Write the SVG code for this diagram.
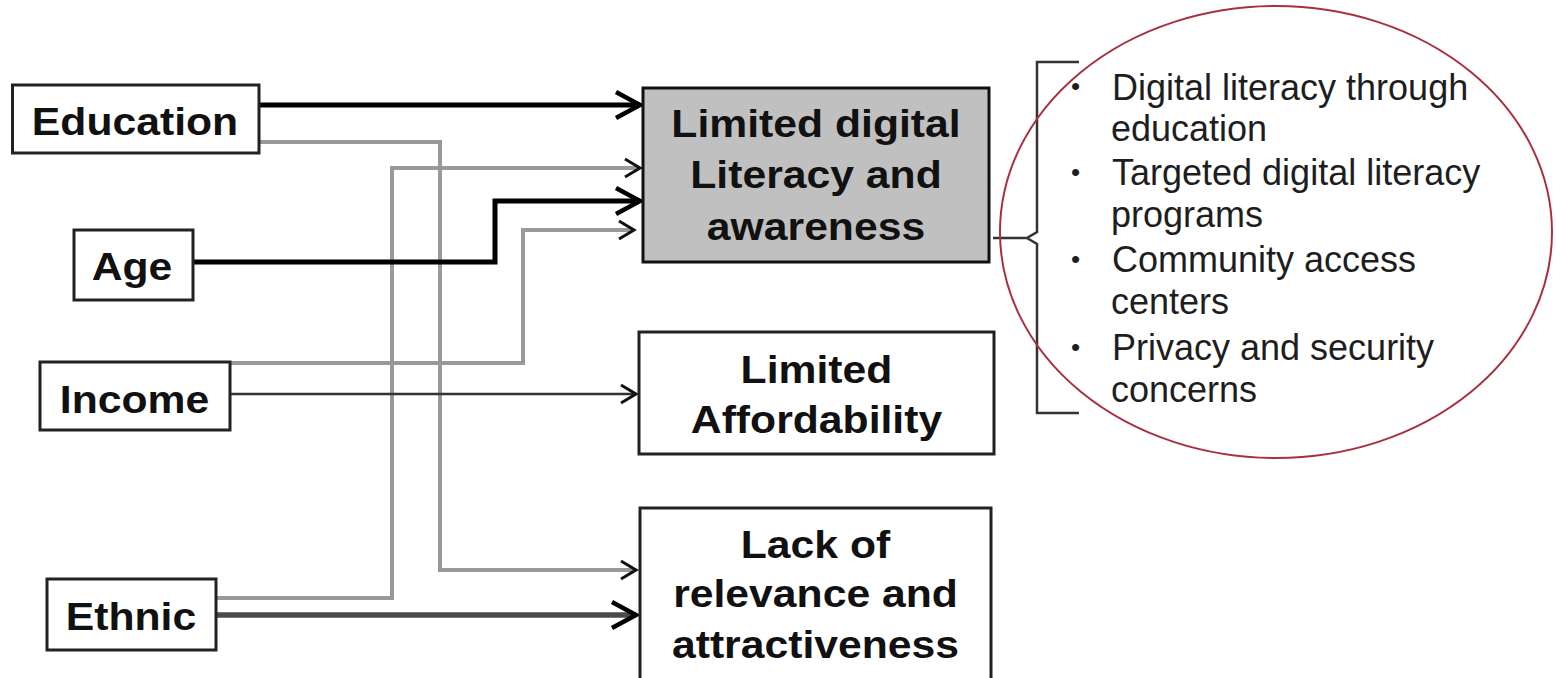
<svg xmlns="http://www.w3.org/2000/svg" width="1556" height="678" viewBox="0 0 1556 678">
  <style>
    .box { fill: #ffffff; stroke: #222; stroke-width: 3; }
    .boxGrey { fill: #c0c0c0; stroke: #111; stroke-width: 3; }
    .lbl { font-family: "Liberation Sans", Arial, sans-serif; font-weight: bold; font-size: 39px; fill: #111; text-anchor: middle; }
    .item { font-family: "Liberation Sans", Arial, sans-serif; font-size: 36px; fill: #1e1e1e; }
    .bullet { font-family: "Liberation Sans", Arial, sans-serif; font-size: 26px; fill: #1e1e1e; }
    .thick { fill: none; stroke: #000; stroke-width: 5; }
    .grey { fill: none; stroke: #999; stroke-width: 4; }
    .thin { fill: none; stroke: #333; stroke-width: 2.5; }
    .dark { fill: none; stroke: #4a4a4a; stroke-width: 5.5; }
  </style>
  <defs>
    <marker id="headBig" markerUnits="userSpaceOnUse" markerWidth="40" markerHeight="40" viewBox="-30 -20 40 40" refX="0" refY="0" orient="auto">
      <path d="M-24,-13 L0,0 L-24,13" fill="none" stroke="#000" stroke-width="4.5"/>
    </marker>
    <marker id="headSmall" markerUnits="userSpaceOnUse" markerWidth="30" markerHeight="30" viewBox="-22 -15 30 30" refX="0" refY="0" orient="auto">
      <path d="M-15,-9 L0,0 L-15,9" fill="none" stroke="#111" stroke-width="3"/>
    </marker>
  </defs>

  <rect width="1556" height="678" fill="#ffffff"/>

  <!-- connectors -->
  <g id="connectors">
    <!-- Education -> Limited digital literacy -->
    <path class="thick" d="M259,105 H640" marker-end="url(#headBig)"/>
    <!-- Education -> Lack of relevance -->
    <path class="grey" d="M259,142 H440 V570 H636" marker-end="url(#headSmall)"/>
    <!-- Ethnic -> Limited digital literacy -->
    <path class="grey" d="M216,598 H392 V168 H640" marker-end="url(#headSmall)"/>
    <!-- Age -> Limited digital literacy -->
    <path class="thick" d="M193,262 H495 V201 H640" marker-end="url(#headBig)"/>
    <!-- Income -> Limited digital literacy -->
    <path class="grey" d="M230,363 H523 V230 H634" marker-end="url(#headSmall)"/>
    <!-- Income -> Limited Affordability -->
    <path class="thin" d="M230,394 H636" marker-end="url(#headSmall)"/>
    <!-- Ethnic -> Lack of relevance -->
    <path class="dark" d="M216,615 H636" marker-end="url(#headBig)"/>
  </g>

  <!-- factor nodes -->
  <g id="education">
    <rect class="box" x="12.5" y="85" width="246.5" height="68"/>
    <text class="lbl" transform="translate(135,135) scale(1.095,1)">Education</text>
  </g>
  <g id="age">
    <rect class="box" x="74" y="230" width="119" height="70"/>
    <text class="lbl" transform="translate(132,280) scale(1.095,1)">Age</text>
  </g>
  <g id="income">
    <rect class="box" x="40" y="362" width="190" height="68"/>
    <text class="lbl" transform="translate(134.5,413) scale(1.095,1)">Income</text>
  </g>
  <g id="ethnic">
    <rect class="box" x="47" y="579" width="169" height="71"/>
    <text class="lbl" transform="translate(131,630) scale(1.095,1)">Ethnic</text>
  </g>

  <!-- outcome nodes -->
  <g id="literacy">
    <rect class="boxGrey" x="643" y="88" width="346" height="174"/>
    <text class="lbl" transform="translate(816,137) scale(1.095,1)">Limited digital</text>
    <text class="lbl" transform="translate(816,188) scale(1.095,1)">Literacy and</text>
    <text class="lbl" transform="translate(816,240) scale(1.095,1)">awareness</text>
  </g>
  <g id="affordability">
    <rect class="box" x="639" y="332" width="355" height="122"/>
    <text class="lbl" transform="translate(816.5,383) scale(1.095,1)">Limited</text>
    <text class="lbl" transform="translate(816.5,433) scale(1.095,1)">Affordability</text>
  </g>
  <g id="relevance">
    <rect class="box" x="640" y="508" width="351" height="190"/>
    <text class="lbl" transform="translate(815.5,558) scale(1.095,1)">Lack of</text>
    <text class="lbl" transform="translate(815.5,607) scale(1.095,1)">relevance and</text>
    <text class="lbl" transform="translate(815.5,658) scale(1.095,1)">attractiveness</text>
  </g>

  <!-- interventions: brace, list and highlight ellipse -->
  <g id="interventions">
    <path d="M1079,62 H1037 V232 L1027,238 L1037,244 V413 H1079 M1027,238 H993" fill="none" stroke="#333" stroke-width="2.5"/>
    <g class="bullet">
      <text x="1071" y="95">•</text>
      <text x="1071" y="181">•</text>
      <text x="1071" y="268">•</text>
      <text x="1071" y="356">•</text>
    </g>
    <g class="item">
      <text x="1112" y="100">Digital literacy through</text>
      <text x="1111" y="141">education</text>
      <text x="1112" y="185">Targeted digital literacy</text>
      <text x="1111" y="227">programs</text>
      <text x="1112" y="272">Community access</text>
      <text x="1111" y="314">centers</text>
      <text x="1112" y="360">Privacy and security</text>
      <text x="1111" y="402">concerns</text>
    </g>
    <ellipse cx="1276" cy="232" rx="276" ry="226" fill="none" stroke="#a83040" stroke-width="2"/>
  </g>
</svg>
